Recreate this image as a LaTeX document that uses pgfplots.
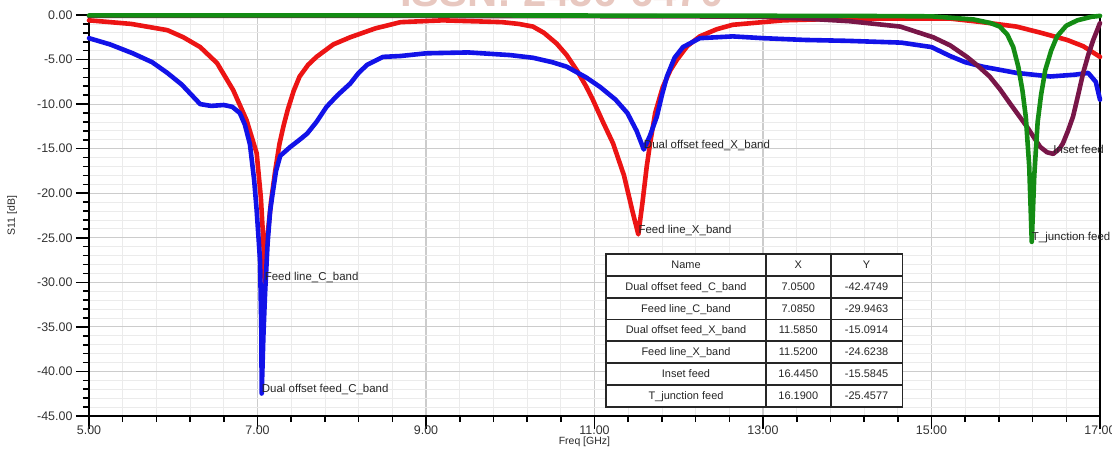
\documentclass[border=0pt]{standalone}
\usepackage{pgfplots}
\pgfplotsset{compat=1.18}
\usepackage{fontspec}
\setmainfont{Liberation Sans}
\usepackage{array}
\newcolumntype{C}[1]{>{\centering\arraybackslash}p{#1}}

\definecolor{cblue}{RGB}{18,18,232}
\definecolor{cred}{RGB}{236,20,20}
\definecolor{cgreen}{RGB}{20,140,20}
\definecolor{cmaroon}{RGB}{120,22,72}
\definecolor{wmark}{RGB}{232,200,192}

\newcommand{\lbl}{\fontsize{11.5}{13}\selectfont}
\newcommand{\rowstrut}{\rule[-6.5bp]{0pt}{20bp}}

\begin{document}
\begin{tikzpicture}
\path[use as bounding box] (-89bp,-37bp) rectangle (1023bp,416bp);

% faint watermark, cut at the top edge
\node[anchor=base west, inner sep=0, text=wmark,
      font=\fontsize{42}{44}\selectfont\bfseries] at (311bp,409bp) {ISSN: 2456-6470};

\begin{axis}[
    scale only axis,
    width=1011bp, height=401bp,
    xmin=5, xmax=17, ymin=-45, ymax=0,
    xtick={5,7,...,17}, ytick={-45,-40,...,0},
    minor x tick num=4, minor y tick num=4,
    tick align=outside,
    major tick length=13bp, minor tick length=6bp,
    xtick pos=bottom, ytick pos=left,
    grid=both,
    major grid style={gray!40, line width=1.1bp},
    minor grid style={gray!16, line width=0.8bp},
    axis line style={black, line width=2.2bp},
    tick style={black, line width=1.6bp},
    /pgf/number format/assume math mode=true,
    /pgf/number format/.cd, fixed, fixed zerofill, precision=2, /pgfplots/.cd,
    ticklabel style={font=\fontsize{12.5}{14}\selectfont, text=black!80},
    xticklabel style={yshift=7bp},
    xlabel={Freq [GHz]}, ylabel={S11 [dB]},
    label style={font=\fontsize{10.5}{12}\selectfont, text=black!85},
    xlabel style={at={(axis description cs:0.49,-0.065)}, anchor=center},
    ylabel style={at={(axis description cs:-0.076,0.5)}, anchor=center, rotate=0},
    clip=false,
    every axis plot/.append style={line width=4.6bp, line join=round, line cap=round, mark=none},
]

% Feed line (red)
\addplot[cred] coordinates {
 (5.0,-0.6) (5.5,-1.0) (5.93,-1.7) (6.12,-2.5) (6.32,-3.6) (6.52,-5.4) (6.71,-8.4)
 (6.87,-11.8) (6.99,-15.5) (7.04,-20.5) (7.07,-25.5) (7.085,-29.9463) (7.11,-25.6)
 (7.16,-21.0) (7.21,-17.5) (7.26,-14.5) (7.31,-12.4) (7.36,-10.6) (7.43,-8.5)
 (7.5,-6.9) (7.6,-5.6) (7.7,-4.7) (7.9,-3.3) (8.1,-2.5) (8.4,-1.5) (8.7,-0.8)
 (9.2,-0.6) (9.9,-0.8) (10.1,-1.0) (10.27,-1.3) (10.4,-2.0) (10.55,-3.2) (10.67,-4.5)
 (10.79,-6.2) (10.9,-8.0) (10.98,-9.5) (11.1,-12.0) (11.22,-14.4) (11.35,-18.0)
 (11.45,-22.0) (11.52,-24.6238) (11.57,-21.0) (11.62,-17.0) (11.66,-14.4) (11.72,-11.0)
 (11.81,-8.1) (11.9,-6.2) (11.98,-5.0) (12.1,-3.5) (12.25,-2.4) (12.45,-1.6)
 (12.64,-1.1) (13.0,-0.8) (13.24,-0.6) (14.0,-0.4) (15.22,-0.4) (15.6,-0.8)
 (16.01,-1.3) (16.3,-2.0) (16.61,-2.8) (16.8,-3.5) (17.0,-4.7)
};

% Dual offset feed (blue)
\addplot[cblue] coordinates {
 (5.0,-2.6) (5.25,-3.3) (5.52,-4.3) (5.75,-5.3) (5.93,-6.5) (6.1,-7.8) (6.2,-8.8)
 (6.32,-10.0) (6.45,-10.2) (6.6,-10.1) (6.7,-10.3) (6.79,-11.0) (6.85,-12.3)
 (6.91,-14.5) (6.96,-18.5) (6.99,-21.9) (7.03,-27.5) (7.045,-35.0) (7.05,-42.4749)
 (7.07,-36.0) (7.09,-31.2) (7.12,-25.6) (7.15,-22.0) (7.18,-20.0) (7.22,-17.5)
 (7.27,-15.8) (7.39,-14.8) (7.5,-14.0) (7.59,-13.3) (7.7,-12.0) (7.82,-10.3)
 (7.95,-9.0) (8.1,-7.7) (8.2,-6.5) (8.3,-5.6) (8.49,-4.7) (8.7,-4.6) (9.0,-4.3)
 (9.5,-4.2) (10.0,-4.5) (10.27,-4.8) (10.5,-5.3) (10.67,-5.8) (10.9,-7.0)
 (11.07,-8.1) (11.25,-9.5) (11.39,-11.0) (11.5,-13.0) (11.585,-15.0914)
 (11.66,-13.5) (11.74,-11.4) (11.8,-9.0) (11.86,-6.9) (11.95,-4.8) (12.05,-3.6)
 (12.25,-2.6) (12.64,-2.4) (13.0,-2.6) (13.5,-2.8) (14.0,-2.9) (14.64,-3.1)
 (15.0,-3.6) (15.22,-4.6) (15.4,-5.3) (15.61,-5.8) (16.01,-6.5) (16.41,-6.9)
 (16.7,-6.7) (16.86,-6.5) (16.95,-7.5) (17.0,-9.5)
};

% Inset feed (maroon)
\addplot[cmaroon] coordinates {
 (5.0,-0.1) (9.0,-0.1) (12.0,-0.15) (13.0,-0.2) (13.5,-0.4) (14.03,-0.7)
 (14.63,-1.3) (15.02,-2.5) (15.22,-3.4) (15.42,-4.7) (15.55,-5.7) (15.69,-6.9)
 (15.81,-8.3) (15.93,-9.9) (16.03,-11.2) (16.13,-12.5) (16.22,-13.8) (16.29,-14.8)
 (16.37,-15.4) (16.445,-15.5845) (16.52,-15.0) (16.56,-14.4) (16.62,-13.0)
 (16.68,-11.4) (16.74,-9.0) (16.8,-6.5) (16.86,-4.5) (16.92,-2.8) (17.0,-0.9)
};

% T_junction feed (green)
\addplot[cgreen] coordinates {
 (5.0,-0.05) (10.0,-0.05) (14.0,-0.1) (15.0,-0.15) (15.5,-0.5) (15.7,-0.9)
 (15.81,-1.3) (15.9,-2.2) (15.97,-3.6) (16.03,-5.8) (16.08,-8.5) (16.12,-11.5)
 (16.16,-17.0) (16.19,-25.4577) (16.22,-18.0) (16.26,-12.0) (16.3,-9.0)
 (16.35,-6.2) (16.42,-4.0) (16.49,-2.4) (16.6,-1.2) (16.73,-0.6) (16.9,-0.2)
 (17.0,-0.1)
};

\begin{scope}[every node/.style={anchor=west, inner sep=0, yshift=4bp, font=\lbl, text=black!85}]
\node at (axis cs:7.05,-42.4749) {Dual offset feed\_C\_band};
\node at (axis cs:7.085,-29.9463) {Feed line\_C\_band};
\node at (axis cs:11.585,-15.0914) {Dual offset feed\_X\_band};
\node at (axis cs:11.52,-24.6238) {Feed line\_X\_band};
\node at (axis cs:16.445,-15.5845) {Inset feed};
\node at (axis cs:16.19,-25.4577) {T\_junction feed};
\end{scope}
\end{axis}

% marker table
\node[anchor=north west, inner sep=0, fill=white, font=\fontsize{11}{13}\selectfont, text=black!85]
  at (516bp,163bp) {%
  \setlength\arrayrulewidth{1.8bp}\setlength\tabcolsep{0pt}%
  \begin{tabular}{|C{158bp}|C{63bp}|C{70bp}|}
  \hline
  \rowstrut Name & X & Y\\ \hline
  \rowstrut Dual offset feed\_C\_band & 7.0500 & -42.4749\\ \hline
  \rowstrut Feed line\_C\_band & 7.0850 & -29.9463\\ \hline
  \rowstrut Dual offset feed\_X\_band & 11.5850 & -15.0914\\ \hline
  \rowstrut Feed line\_X\_band & 11.5200 & -24.6238\\ \hline
  \rowstrut Inset feed & 16.4450 & -15.5845\\ \hline
  \rowstrut T\_junction feed & 16.1900 & -25.4577\\ \hline
  \end{tabular}};
\end{tikzpicture}
\end{document}
